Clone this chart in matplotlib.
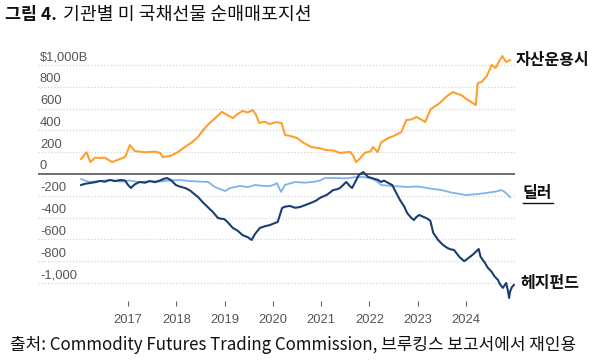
import matplotlib
matplotlib.use("Agg")
import matplotlib.pyplot as plt
import matplotlib.transforms as mtransforms

# ---------------- data ----------------
# x positions are decimal years
am_years = [2016.03, 2016.14, 2016.22, 2016.32, 2016.42, 2016.52, 2016.67, 2016.79, 2016.94, 2017.04,
            2017.14, 2017.35, 2017.56, 2017.66, 2017.72, 2017.87, 2018.03, 2018.18, 2018.32, 2018.45,
            2018.55, 2018.65, 2018.80, 2018.94, 2019.06, 2019.17, 2019.27, 2019.37, 2019.48, 2019.58,
            2019.64, 2019.72, 2019.83, 2019.93, 2020.06, 2020.18, 2020.25, 2020.35, 2020.50, 2020.62,
            2020.79, 2020.98, 2021.10, 2021.25, 2021.39, 2021.52, 2021.60, 2021.66, 2021.72, 2021.80,
            2021.90, 2022.03, 2022.07, 2022.17, 2022.24, 2022.39, 2022.53, 2022.66, 2022.76, 2022.86,
            2022.97, 2023.07, 2023.15, 2023.27, 2023.42, 2023.52, 2023.62, 2023.73, 2023.79, 2023.90,
            2024.00, 2024.20, 2024.24, 2024.32, 2024.43, 2024.53, 2024.61, 2024.69, 2024.75, 2024.83,
            2024.91]
am_vals = [138, 200, 110, 150, 147, 150, 110, 130, 156, 266,
           210, 200, 205, 195, 156, 165, 200, 248, 290, 340,
           400, 450, 510, 570, 540, 513, 550, 578, 565, 587,
           550, 468, 480, 458, 475, 468, 358, 350, 330, 290,
           248, 235, 220, 215, 193, 200, 202, 170, 110, 140,
           193, 210, 248, 202, 290, 330, 355, 385, 495, 500,
           523, 500, 477, 596, 640, 678, 720, 752, 740, 724,
           690, 633, 834, 844, 900, 1000, 972, 1040, 1082, 1027,
           1045]

dl_years = [2016.03, 2016.11, 2016.21, 2016.42, 2016.63, 2016.84, 2017.04, 2017.24, 2017.45, 2017.66,
            2017.86, 2018.07, 2018.28, 2018.49, 2018.66, 2018.80, 2018.90, 2019.01, 2019.11, 2019.21,
            2019.32, 2019.48, 2019.63, 2019.83, 2019.94, 2020.04, 2020.08, 2020.17, 2020.25, 2020.46,
            2020.66, 2020.87, 2020.97, 2021.08, 2021.29, 2021.50, 2021.70, 2021.86, 2022.03, 2022.13,
            2022.24, 2022.45, 2022.66, 2022.76, 2022.97, 2023.07, 2023.28, 2023.49, 2023.69, 2023.90,
            2024.00, 2024.21, 2024.42, 2024.63, 2024.73, 2024.80, 2024.91]
dl_vals = [-46, -60, -73, -65, -55, -70, -60, -75, -65, -70,
           -60, -55, -65, -70, -73, -119, -138, -156, -130, -119,
           -110, -120, -101, -110, -110, -95, -83, -165, -100, -73,
           -80, -70, -60, -37, -37, -40, -30, -27, -40, -60,
           -101, -110, -115, -119, -115, -119, -135, -147, -170, -185,
           -193, -185, -174, -160, -147, -165, -211]

hf_years = [2016.03, 2016.11, 2016.21, 2016.32, 2016.42, 2016.52, 2016.63, 2016.73, 2016.84, 2016.94,
            2017.00, 2017.06, 2017.14, 2017.24, 2017.35, 2017.45, 2017.56, 2017.66, 2017.74, 2017.81,
            2017.90, 2017.99, 2018.07, 2018.18, 2018.28, 2018.39, 2018.45, 2018.55, 2018.65, 2018.76,
            2018.86, 2018.92, 2018.99, 2019.06, 2019.17, 2019.27, 2019.37, 2019.48, 2019.56, 2019.63,
            2019.73, 2019.83, 2019.94, 2020.04, 2020.10, 2020.19, 2020.25, 2020.35, 2020.46, 2020.56,
            2020.70, 2020.83, 2020.91, 2020.97, 2021.12, 2021.25, 2021.33, 2021.39, 2021.52, 2021.59,
            2021.64, 2021.72, 2021.78, 2021.87, 2021.97, 2022.07, 2022.18, 2022.24, 2022.30, 2022.39,
            2022.47, 2022.55, 2022.63, 2022.72, 2022.78, 2022.86, 2022.92, 2022.97, 2023.03, 2023.20,
            2023.26, 2023.32, 2023.42, 2023.52, 2023.61, 2023.67, 2023.75, 2023.86, 2023.96, 2024.05,
            2024.13, 2024.20, 2024.26, 2024.30, 2024.39, 2024.45, 2024.53, 2024.59, 2024.66, 2024.70,
            2024.76, 2024.83, 2024.87, 2024.89, 2024.91, 2024.95, 2024.99]
hf_vals = [-101, -90, -83, -75, -64, -70, -55, -65, -55, -60,
           -100, -128, -95, -73, -80, -65, -75, -60, -45, -37,
           -60, -101, -115, -128, -150, -190, -211, -260, -303, -350,
           -403, -410, -413, -440, -495, -520, -560, -580, -605, -550,
           -495, -480, -468, -450, -440, -312, -300, -293, -310, -303,
           -280, -257, -240, -220, -190, -147, -140, -128, -73, -110,
           -128, -60, -9, 18, -27, -40, -55, -73, -60, -83,
           -101, -170, -238, -300, -358, -400, -422, -395, -376, -410,
           -430, -540, -605, -650, -678, -690, -697, -760, -800, -770,
           -743, -715, -688, -760, -816, -860, -898, -940, -972, -1010,
           -1045, -1000, -1080, -1137, -1080, -1036, -1018]

ytick_vals = [1000, 800, 600, 400, 200, 0, -200, -400, -600, -800, -1000]
ytick_labels = ["$1,000B", "800", "600", "400", "200", "0", "-200", "-400", "-600", "-800", "-1,000"]
xtick_years = [2017, 2018, 2019, 2020, 2021, 2022, 2023, 2024]

title_bold = "그림 4."
title_rest = "기관별 미 국채선물 순매매포지션"
source_text = "출처: Commodity Futures Trading Commission, 브루킹스 보고서에서 재인용"
label_am = "자산운용시"
label_dl = "딜러"
label_hf = "헤지펀드"

# ---------------- styling ----------------
plt.rcParams['font.family'] = ['Noto Sans CJK KR', 'DejaVu Sans']
C_AM = "#FFA02A"
C_DL = "#80B3EA"
C_HF = "#1B3E72"
C_TICK = "#555555"

W, H = 600, 364
fig = plt.figure(figsize=(W / 100, H / 100), dpi=100)

ax_left, ax_right, ax_top, ax_bottom = 38, 515, 50, 301
ax = fig.add_axes([ax_left / W, (H - ax_bottom) / H, (ax_right - ax_left) / W, (ax_bottom - ax_top) / H])

px_per_year = 48.3
ax.set_xlim(2017 - (128 - ax_left) / px_per_year, 2017 + (ax_right - 128) / px_per_year)
val_per_px = 1000 / 109.0
ax.set_ylim(-(ax_bottom - 174) * val_per_px, (174 - ax_top) * val_per_px)

for s in ax.spines.values():
    s.set_visible(False)

for v in ytick_vals:
    if v == 0:
        ax.axhline(0, color="#555555", lw=1.2, zorder=1)
    else:
        ax.axhline(v, color="#d5d5d5", lw=0.9, ls=(0, (1, 1.5)), zorder=0)

for v, lab in zip(ytick_vals, ytick_labels):
    tr = mtransforms.offset_copy(ax.get_yaxis_transform(), fig=fig, x=2, y=1.5, units='dots')
    ax.text(0, v, lab, transform=tr, ha='left', va='bottom', fontsize=9.3,
            color=C_TICK, family=['Liberation Sans', 'DejaVu Sans'])
ax.set_yticks([])

ax.set_xticks(xtick_years)
ax.set_xticklabels([str(y) for y in xtick_years], fontsize=9.3, color=C_TICK,
                   family=['Liberation Sans', 'DejaVu Sans'])
ax.tick_params(axis='x', length=3.5, width=0.8, color="#666666", pad=6, direction='out')

ax.plot(dl_years, dl_vals, color=C_DL, lw=1.3, zorder=3)
ax.plot(hf_years, hf_vals, color=C_HF, lw=1.5, zorder=4)
ax.plot(am_years, am_vals, color=C_AM, lw=1.5, zorder=5)

# series labels
fig.text(516 / W, 1 - 60 / H, label_am, fontsize=11.5, fontweight='bold', ha='left', va='center', color="#111111")
fig.text(523 / W, 1 - 193 / H, label_dl, fontsize=11.5, fontweight='bold', ha='left', va='center', color="#111111")
fig.add_artist(plt.Line2D([523 / W, 553 / W], [1 - 203 / H, 1 - 203 / H], color="#111111", lw=1.0))
fig.text(520 / W, 1 - 283 / H, label_hf, fontsize=11.5, fontweight='bold', ha='left', va='center', color="#111111")

# title
fig.text(5 / W, 1 - 15 / H, title_bold, fontsize=12.5, fontweight='bold', ha='left', va='center', color="#111111")
fig.text(63 / W, 1 - 15 / H, title_rest, fontsize=13.2, ha='left', va='center', color="#111111")

# source
fig.text(10 / W, 1 - 345 / H, source_text, fontsize=12.2, ha='left', va='center', color="#111111")

fig.savefig("out.png", dpi=100)
